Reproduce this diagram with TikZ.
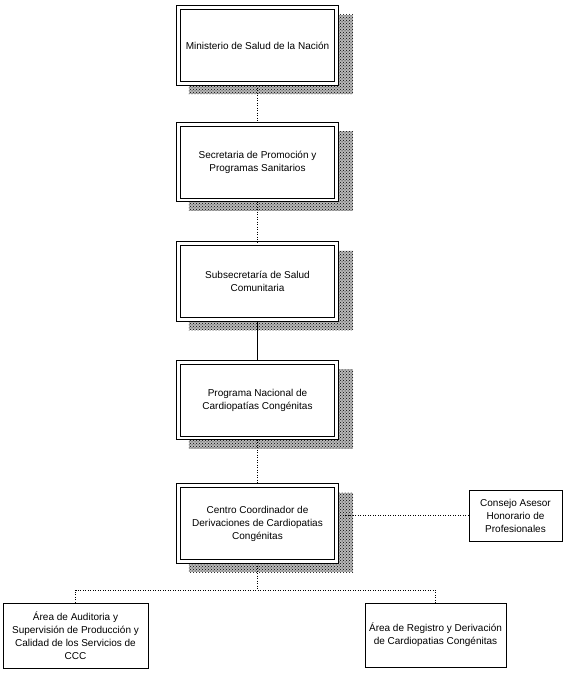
\documentclass[tikz,border=0pt]{standalone}
\usepackage{fontspec}
\setmainfont{Liberation Sans}
\usetikzlibrary{patterns}
\pgfdeclarelayer{bg}
\pgfsetlayers{bg,main}
\begin{document}
\begin{tikzpicture}[x=1pt,y=-1pt,
  every node/.style={font=\fontsize{10}{13}\selectfont, align=center, inner sep=0pt},
  mainbox/.style={fill=white, minimum width=161pt, minimum height=79pt},
  outerline/.style={line width=1pt},
  innerline/.style={line width=0.5pt},
  shadowfill/.style={fill=black!28, postaction={pattern=crosshatch dots, pattern color=black}},
  sidebox/.style={draw, line width=0.7pt, fill=white},
  conn/.style={line width=0.5pt},
  dotconn/.style={line width=0.5pt, dash pattern=on 1pt off 1.5pt}]
\useasboundingbox (0,0) rectangle (563,679);
\node[mainbox] (b1) at (257.5,45.5) {Ministerio de Salud de la Nación};
\node[mainbox] (b2) at (257.5,162) {Secretaria de Promoción y\\Programas Sanitarios};
\node[mainbox] (b3) at (257.5,281.5) {Subsecretaría de Salud\\Comunitaria};
\node[mainbox] (b4) at (257.5,400) {Programa Nacional de\\Cardiopatías Congénitas};
\node[mainbox] (b5) at (257.5,523.5) {Centro Coordinador de\\Derivaciones de Cardiopatias\\Congénitas};
\foreach \b in {b1,b2,b3,b4,b5}{
  \begin{pgfonlayer}{bg}
    \fill[shadowfill] ([shift={(12,9)}]\b.south west) rectangle ([shift={(15,9)}]\b.north east);
  \end{pgfonlayer}
  \draw[outerline] (\b.south west) rectangle (\b.north east);
  \draw[innerline] ([shift={(3.5,-3.5)}]\b.south west) rectangle ([shift={(-3.5,3.5)}]\b.north east);
}
\node[sidebox, minimum width=93pt, minimum height=51pt] (cons) at (515.5,515.5) {Consejo Asesor\\Honorario de\\Profesionales};
\node[sidebox, minimum width=145pt, minimum height=65pt] (aud) at (75.5,635.5) {Área de Auditoria y\\Supervisión de Producción y\\Calidad de los Servicios de\\CCC};
\node[sidebox, minimum width=141pt, minimum height=64pt] (reg) at (435.5,635) {Área de Registro y Derivación\\de Cardiopatias Congénitas};
\coordinate (bus) at (257.5,590);
\draw[dotconn] (b1.south) -- (b2.north);
\draw[dotconn] (b2.south) -- (b3.north);
\draw[conn] (b3.south) -- (b4.north);
\draw[dotconn] (b4.south) -- (b5.north);
\draw[dotconn] (cons.west) -- (cons.west -| b5.east);
\draw[dotconn] (b5.south) -- (bus);
\draw[dotconn] (aud.north) |- (bus) -| (reg.north);
\end{tikzpicture}
\end{document}
